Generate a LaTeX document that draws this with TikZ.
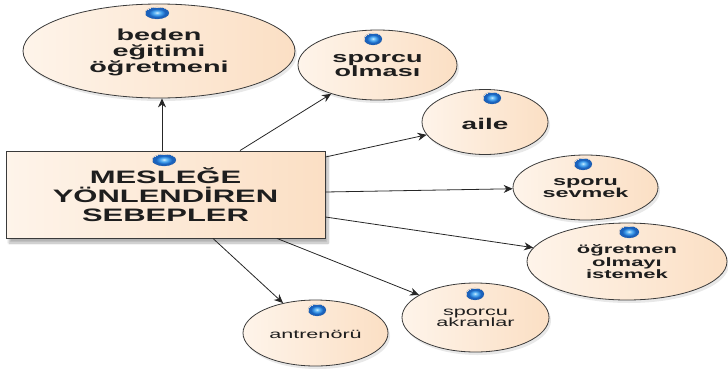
\documentclass[tikz,border=0pt]{standalone}
\usepackage{fontspec}
\setmainfont{Liberation Sans}
\usetikzlibrary{shapes.geometric,arrows.meta,shadows,shadows.blur}
\definecolor{peachR}{HTML}{FBDFC4}
\definecolor{peachL}{HTML}{FEF4EA}
\definecolor{rim}{HTML}{3A3A3A}
\definecolor{ink}{HTML}{1E1E1E}
\definecolor{orbL}{HTML}{8FD0FA}
\definecolor{orbM}{HTML}{3E9BEA}
\definecolor{orbD}{HTML}{1B62BC}
% glossy blue marker shading: white glare, light core, darker rim
\pgfdeclareradialshading{orbshade}{\pgfpoint{0bp}{2bp}}{%
  color(0bp)=(white); color(3bp)=(orbL); color(10bp)=(orbM);
  color(17bp)=(orbD); color(25bp)=(orbD)}
\tikzset{
  x=1pt, y=-1pt,
  bubble/.style={ellipse, draw=rim, line width=0.8pt, left color=peachL, right color=peachR,
    drop shadow={opacity=0.18, shadow xshift=2pt, shadow yshift=-3pt}, inner sep=0pt},
  panel/.style={rectangle, draw=rim, line width=0.9pt, left color=peachL, right color=peachR,
    blur shadow={shadow blur steps=8, shadow xshift=3pt, shadow yshift=-5pt, shadow opacity=30}, inner sep=0pt},
  label/.style={text=ink, align=center, inner sep=0pt},
  conn/.style={draw=black!85, line width=0.8pt, -{Stealth[length=9pt,width=8pt]}},
}
\newcommand{\orbdot}[3]{\shade[shading=orbshade] (#1,#2) ellipse [x radius=#3, y radius=6];
  \draw[orbD!70!black, line width=0.3pt, opacity=0.5] (#1,#2) ellipse [x radius=#3, y radius=6];}
\begin{document}
\begin{tikzpicture}
\useasboundingbox (0,0) rectangle (728,370);

% central box
\node[panel, minimum width=319pt, minimum height=87pt] (box) at (165.5,194.5) {};
\node[label, xscale=1.72, font={\fontsize{18}{19}\selectfont\bfseries}] (boxtxt) at (165.5,195)
  {MESLEĞE\\YÖNLENDİREN\\SEBEPLER};

% outcome bubbles
\node[bubble, minimum width=272pt, minimum height=94pt] (beden) at (159,51) {};
\node[label, xscale=1.8, font={\fontsize{16}{16}\selectfont\bfseries}] (bedentxt) at (159,52)
  {beden\\eğitimi\\öğretmeni};

\node[bubble, minimum width=159pt, minimum height=70pt] (olmasi) at (377.5,65) {};
\node[label, xscale=1.8, font={\fontsize{15}{14}\selectfont\bfseries}] (olmasitxt) at (377.5,66)
  {sporcu\\olması};

\node[bubble, minimum width=126pt, minimum height=65pt] (aile) at (485,122) {};
\node[label, xscale=1.8, font={\fontsize{15.5}{15}\selectfont\bfseries}] (ailetxt) at (485,124)
  {aile};

\node[bubble, minimum width=145pt, minimum height=65pt] (sevmek) at (585.5,187.5) {};
\node[label, xscale=1.8, font={\fontsize{13}{12.5}\selectfont\bfseries}] (sevmektxt) at (585.5,188)
  {sporu\\sevmek};

\node[bubble, minimum width=200pt, minimum height=77pt] (istemek) at (627,261.5) {};
\node[label, xscale=1.8, font={\fontsize{12.2}{12.5}\selectfont\bfseries}] (istemektxt) at (627,262)
  {öğretmen\\olmayı\\istemek};

\node[bubble, minimum width=145pt, minimum height=66pt] (antrenor) at (315.5,333) {};
\node[label, xscale=1.8, font={\fontsize{12}{12}\selectfont}] (antrenortxt) at (315.5,334)
  {antrenörü};

\node[bubble, minimum width=147pt, minimum height=69pt] (akran) at (475.5,317.5) {};
\node[label, xscale=1.8, font={\fontsize{12}{11.5}\selectfont}] (akrantxt) at (475.5,318)
  {sporcu\\akranlar};

% blue markers on top of each shape
\orbdot{157}{13}{12}
\orbdot{164}{160}{12}
\orbdot{373}{39}{9}
\orbdot{492}{98}{9}
\orbdot{583}{164}{9}
\orbdot{629}{232}{10}
\orbdot{317}{310}{9}
\orbdot{475}{294}{9}

% connectors
\coordinate (upA) at ([xshift=-3.5pt]box.north);
\draw[conn] (upA) -- (upA |- beden.south);
\draw[conn] ([xshift=74.5pt]box.north) -- (olmasi);
\draw[conn] ([yshift=37.5pt]box.east) -- (aile);
\draw[conn] ([yshift=2.5pt]box.east) -- (sevmek);
\draw[conn] ([yshift=-22.5pt]box.east) -- (istemek);
\draw[conn] ([xshift=47.5pt]box.south) -- (antrenor);
\draw[conn] ([xshift=111.5pt]box.south) -- (akran);
\end{tikzpicture}
\end{document}
